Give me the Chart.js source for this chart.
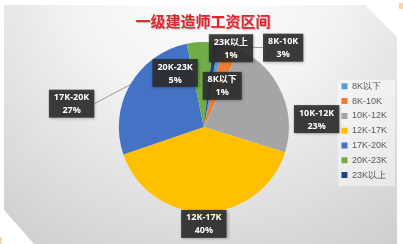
<!DOCTYPE html>
<html>
<head>
<meta charset="utf-8">
<script src="https://cdn.jsdelivr.net/npm/chart.js@4.4.0/dist/chart.umd.min.js"></script>
<style>
  html, body { margin: 0; padding: 0; background: #fff; }
</style>
</head>
<body>
<canvas id="salaryChart" width="403" height="244"></canvas>
<script>
// data
const chartTitle = '一级建造师工资区间';
const salaryRanges = ['8K以下', '8K-10K', '10K-12K', '12K-17K', '17K-20K', '20K-23K', '23K以上'];
const sharePercent = [1, 3, 23, 40, 27, 5, 1];
const sliceColors = ['#5B9BD5', '#ED7D31', '#A5A5A5', '#FFC000', '#4472C4', '#70AD47', '#264478'];

// where each data label box sits: [radius factor, degrees clockwise from 12 o'clock, leader line]
const labelSpots = [
  [0.53, 24, false],
  [1.32, 45, true],
  [1.33, 86, false],
  [1.14, 180, false],
  [1.58, 280, true],
  [0.72, 332, false],
  [0.98, 19, false]
];

// grey panel with clipped corners + legend backdrop
const panelBg = {
  id: 'panelBg',
  beforeDraw(chart) {
    const ctx = chart.ctx, w = chart.width, h = chart.height;
    ctx.save();
    ctx.fillStyle = '#fff';
    ctx.fillRect(0, 0, w, h);
    const g = ctx.createRadialGradient(205, -30, 0, 205, -30, 340);
    g.addColorStop(0, '#ffffff');
    g.addColorStop(0.4, '#f3f3f3');
    g.addColorStop(1, '#cdcdcd');
    ctx.beginPath();
    ctx.moveTo(4, 5);
    ctx.lineTo(365, 5);
    ctx.lineTo(397, 37);
    ctx.lineTo(397, h);
    ctx.lineTo(34, h);
    ctx.lineTo(4, 210);
    ctx.closePath();
    ctx.fillStyle = g;
    ctx.fill();
    ctx.fillStyle = '#F8D6AE';
    ctx.fillRect(399, 3, 4, 6);
    ctx.fillRect(0, 237, 2, 7);

    const lg = chart.legend;
    if (lg) {
      ctx.fillStyle = 'rgba(255,255,255,0.45)';
      ctx.fillRect(lg.left + 2, 80, lg.width - 4, 106);
    }

    // title centred over the whole picture, not over the padded chart box
    ctx.font = 'bold 15px "Noto Sans CJK SC", sans-serif';
    ctx.textAlign = 'center';
    ctx.textBaseline = 'middle';
    ctx.shadowColor = 'rgba(0,0,0,0.25)';
    ctx.shadowOffsetX = 1;
    ctx.shadowOffsetY = 1;
    ctx.shadowBlur = 1;
    ctx.fillStyle = '#E3262B';
    ctx.fillText(chartTitle, 203, 21);
    ctx.restore();
  }
};

// dark boxed labels like excel data callouts
const boxLabels = {
  id: 'boxLabels',
  afterDatasetsDraw(chart) {
    const ctx = chart.ctx;
    const meta = chart.getDatasetMeta(0);
    const vals = chart.data.datasets[0].data;
    const total = vals.reduce((a, b) => a + b, 0);
    ctx.save();
    ctx.font = 'bold 9px "Open Sans", "Noto Sans CJK SC", sans-serif';
    const boxes = meta.data.map((arc, i) => {
      const p = arc.getProps(['x', 'y', 'startAngle', 'endAngle', 'outerRadius'], true);
      const spot = labelSpots[i];
      const a = (spot[1] - 90) * Math.PI / 180;
      const cx = p.x + Math.cos(a) * p.outerRadius * spot[0];
      const cy = p.y + Math.sin(a) * p.outerRadius * spot[0];
      const t1 = chart.data.labels[i];
      const t2 = Math.round(vals[i] / total * 100) + '%';
      const bw = Math.max(ctx.measureText(t1).width, ctx.measureText(t2).width) + 10;
      return { p, cx, cy, t1, t2, bw, bh: 28, lead: spot[2] };
    });

    // leader lines first so boxes cover them
    ctx.strokeStyle = '#9a9a9a';
    ctx.lineWidth = 1;
    boxes.forEach(b => {
      if (!b.lead) return;
      const mid = (b.p.startAngle + b.p.endAngle) / 2;
      const ex = b.p.x + Math.cos(mid) * b.p.outerRadius;
      const ey = b.p.y + Math.sin(mid) * b.p.outerRadius;
      const sx = b.cx < ex ? b.cx + b.bw / 2 : b.cx - b.bw / 2;
      ctx.beginPath();
      ctx.moveTo(ex, ey);
      ctx.lineTo(sx, b.cy);
      ctx.stroke();
    });

    boxes.forEach(b => {
      ctx.shadowColor = 'rgba(0,0,0,0.35)';
      ctx.shadowBlur = 3;
      ctx.shadowOffsetX = 1;
      ctx.shadowOffsetY = 1;
      ctx.fillStyle = 'rgba(45,45,45,0.9)';
      ctx.fillRect(b.cx - b.bw / 2, b.cy - b.bh / 2, b.bw, b.bh);
      ctx.shadowColor = 'transparent';
      ctx.fillStyle = '#ffffff';
      ctx.textAlign = 'center';
      ctx.textBaseline = 'middle';
      ctx.fillText(b.t1, b.cx, b.cy - 6);
      ctx.fillText(b.t2, b.cx, b.cy + 7);
    });
    ctx.restore();
  }
};

new Chart(document.getElementById('salaryChart'), {
  type: 'pie',
  data: {
    labels: salaryRanges,
    datasets: [{
      data: sharePercent,
      backgroundColor: sliceColors,
      borderWidth: 0
    }]
  },
  options: {
    responsive: false,
    devicePixelRatio: 1,
    animation: false,
    rotation: 10,
    layout: { padding: { left: 72, right: 6, top: 42, bottom: 32 } },
    plugins: {
      title: { display: false },
      legend: {
        position: 'right',
        align: 'start',
        title: { display: true, text: ' ', font: { size: 10 }, padding: { top: 22, bottom: 0 } },
        labels: {
          boxWidth: 6,
          boxHeight: 6,
          padding: 5.8,
          color: '#595959',
          font: { family: '"Liberation Sans", sans-serif', size: 9 }
        }
      },
      tooltip: { enabled: false }
    }
  },
  plugins: [panelBg, boxLabels]
});
</script>
</body>
</html>
